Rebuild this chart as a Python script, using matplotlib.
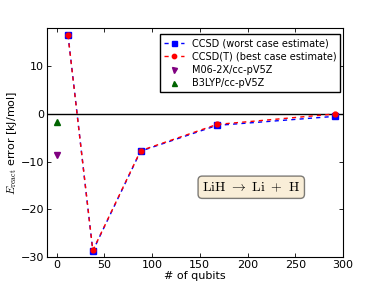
import matplotlib
matplotlib.use('Agg')
import matplotlib.pyplot as plt

qubits = [12, 38, 88, 168, 292]
ccsd = [16.6, -28.7, -7.8, -2.4, -0.5]
ccsd_t = [16.5, -28.6, -7.7, -2.2, 0.0]
dft_x = [0]
m06 = [-8.5]
b3lyp = [-1.6]

plt.rcParams['font.size'] = 8
plt.rcParams['mathtext.fontset'] = 'cm'
plt.rcParams['xtick.direction'] = 'in'
plt.rcParams['ytick.direction'] = 'in'
plt.rcParams['xtick.top'] = True
plt.rcParams['ytick.right'] = True

fig = plt.figure(figsize=(3.82, 2.86), dpi=100)
ax = fig.add_axes([0.123, 0.101, 0.775, 0.801])

ax.axhline(0, color='black', linewidth=1)
ax.plot(qubits, ccsd, 'bs--', markersize=4, linewidth=1, dashes=(3, 3),
        label='CCSD (worst case estimate)')
ax.plot(qubits, ccsd_t, 'ro--', markersize=3.5, linewidth=1, dashes=(3, 3),
        label='CCSD(T) (best case estimate)')
ax.plot(dft_x, m06, 'v', color='purple', markersize=4, linestyle='none', label='M06-2X/cc-pV5Z')
ax.plot(dft_x, b3lyp, '^', color='darkgreen', markersize=4, linestyle='none', label='B3LYP/cc-pV5Z')

ax.set_xlim(-10, 300)
ax.set_ylim(-30, 18)
ax.set_xticks([0, 50, 100, 150, 200, 250, 300])
ax.set_yticks([-30, -20, -10, 0, 10])
ax.tick_params(length=3, width=0.6, pad=2)
ax.set_xlabel('# of qubits', labelpad=1)
ax.set_ylabel(r'$E_{\rm react}$ error [kJ/mol]', labelpad=1)

ax.legend(loc='upper right', fontsize=7, handlelength=2, borderaxespad=0.3,
          bbox_to_anchor=(1.0, 0.985),
          fancybox=False, edgecolor='black', framealpha=1, borderpad=0.4,
          labelspacing=0.35, handletextpad=0.8, markerscale=0.9)

ax.text(0.69, 0.305, r'$\mathrm{LiH\ \rightarrow\ Li\ +\ H}$', transform=ax.transAxes,
        ha='center', va='center', fontsize=10,
        bbox=dict(boxstyle='round', facecolor='wheat', alpha=0.5))

fig.savefig('out.png', dpi=100)
